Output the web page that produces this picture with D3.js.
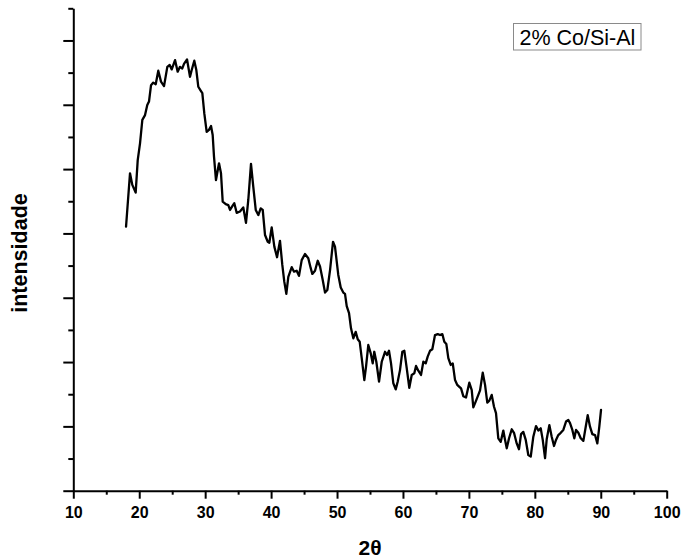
<!DOCTYPE html>
<html>
<head>
<meta charset="utf-8">
<script src="https://cdn.jsdelivr.net/npm/d3@7/dist/d3.min.js"></script>
<style>
  html, body { margin: 0; padding: 0; background: #fff; }
  svg { display: block; }
  text { font-family: "Liberation Sans", Arial, sans-serif; }
</style>
</head>
<body>
<svg id="chart" width="682" height="558"></svg>
<script>
// Diffraction pattern: 2θ (degrees) and intensity (arbitrary units)
const twoTheta = [
  18.00, 18.60, 18.95, 19.46, 19.77, 20.12, 20.47, 20.88, 21.22, 21.48,
  21.79, 22.13, 22.50, 22.89, 23.30, 23.76, 24.26, 24.62, 24.93, 25.43,
  25.83, 26.18, 26.53, 26.79, 27.25, 27.70, 27.96, 28.35, 28.66, 28.96,
  29.32, 29.57, 29.87, 30.23, 30.58, 30.89, 31.14, 31.34, 31.64, 32.10,
  32.40, 32.66, 33.12, 33.51, 33.77, 34.12, 34.42, 34.78, 35.28, 35.78,
  36.19, 36.54, 36.95, 37.30, 37.67, 38.06, 38.42, 38.73, 39.08, 39.49,
  39.73, 40.09, 40.49, 40.90, 41.35, 41.70, 42.00, 42.31, 42.61, 43.13,
  43.48, 43.88, 44.23, 44.64, 45.14, 45.64, 46.01, 46.25, 46.66, 47.07,
  47.42, 47.83, 48.18, 48.53, 48.94, 49.39, 49.69, 50.19, 50.56, 50.95,
  51.21, 51.47, 51.82, 52.12, 52.47, 52.83, 53.14, 53.44, 53.74, 54.14,
  54.40, 54.74, 55.11, 55.41, 55.65, 55.96, 56.37, 56.78, 57.28, 57.58,
  57.88, 58.19, 58.54, 58.90, 59.20, 59.55, 59.90, 60.21, 60.57, 60.96,
  61.33, 61.72, 61.98, 62.33, 62.74, 63.09, 63.45, 63.75, 64.10, 64.45,
  64.86, 65.27, 65.62, 65.97, 66.27, 66.58, 66.88, 67.24, 67.55, 67.90,
  68.24, 68.55, 68.81, 69.15, 69.56, 70.06, 70.43, 70.67, 71.03, 71.43,
  71.69, 72.10, 72.45, 72.79, 73.10, 73.46, 73.81, 74.11, 74.46, 74.83,
  75.22, 75.48, 75.74, 76.09, 76.50, 76.84, 77.25, 77.60, 77.91, 78.25,
  78.62, 79.01, 79.38, 79.77, 80.18, 80.53, 80.89, 81.20, 81.55, 81.80,
  82.20, 82.56, 82.91, 83.21, 83.56, 83.93, 84.32, 84.73, 85.08, 85.34,
  85.69, 85.99, 86.25, 86.60, 86.96, 87.36, 87.72, 88.02, 88.37, 88.72,
  89.13, 89.48, 89.78, 90.04
];
const intensity = [
   821,  987,  951,  927, 1028, 1080, 1153, 1168, 1199, 1210,
  1261, 1269, 1264, 1306, 1272, 1258, 1318, 1324, 1310, 1339,
  1303, 1318, 1313, 1327, 1341, 1287, 1308, 1337, 1308, 1256,
  1244, 1236, 1173, 1116, 1122, 1134, 1106, 1039,  966, 1018,
   987,  899,  891,  888,  873,  885,  894,  864,  868,  881,
   833,  904, 1016,  945,  873,  857,  878,  873,  795,  774,
   771,  819,  759,  726,  777,  702,  650,  612,  665,  695,
   681,  684,  668,  717,  736,  723,  692,  674,  684,  715,
   697,  655,  616,  624,  686,  774,  759,  671,  632,  616,
   612,  574,  552,  505,  474,  494,  471,  463,  413,  344,
   386,  453,  427,  396,  432,  401,  339,  401,  432,  422,
   435,  396,  334,  315,  339,  375,  432,  435,  381,  320,
   360,  365,  388,  373,  360,  401,  396,  417,  435,  440,
   484,  487,  484,  487,  463,  456,  412,  391,  396,  344,
   329,  323,  318,  294,  290,  336,  313,  259,  277,  298,
   312,  367,  329,  274,  280,  298,  261,  241,  163,  152,
   187,  158,  132,  163,  191,  180,  147,  129,  176,  183,
   158,  111,  106,  168,  201,  187,  194,  158,  101,  160,
   204,  168,  139,  158,  173,  180,  189,  215,  220,  210,
   189,  163,  189,  180,  163,  155,  199,  235,  199,  176,
   173,  147,  199,  251
];

// Axis ticks
const xMajorTicks = [10, 20, 30, 40, 50, 60, 70, 80, 90, 100];
const xMinorTicks = [15, 25, 35, 45, 55, 65, 75, 85, 95];
const yMajorTicks = [0, 200, 400, 600, 800, 1000, 1200, 1400];
const yMinorTicks = [100, 300, 500, 700, 900, 1100, 1300, 1500];

const seriesName = "2% Co/Si-Al";
const xTitle = "2θ";
const yTitle = "intensidade";

const W = 682, H = 558;
const margin = { top: 8.3, right: 15.3, bottom: 67.3, left: 73.3 };

const svg = d3.select("#chart");

const x = d3.scaleLinear().domain([10, 100]).range([margin.left, W - margin.right]);
const y = d3.scaleLinear().domain([0, 1500]).range([H - margin.bottom, margin.top]);

const axisStroke = 2;

// x axis: minor ticks first, then major ticks with labels and the axis line
const gxMinor = svg.append("g")
  .attr("transform", `translate(0,${y(0)})`)
  .call(d3.axisBottom(x).tickValues(xMinorTicks).tickSize(4).tickFormat(""));
gxMinor.select(".domain").remove();

const gx = svg.append("g")
  .attr("transform", `translate(0,${y(0)})`)
  .call(d3.axisBottom(x).tickValues(xMajorTicks).tickSize(8).tickSizeOuter(0)
        .tickPadding(8).tickFormat(d3.format("d")));
gx.selectAll("text")
  .attr("font-size", 16)
  .attr("font-weight", "bold")
  .attr("fill", "#000");

// y axis: no tick labels
const gyMinor = svg.append("g")
  .attr("transform", `translate(${x(10)},0)`)
  .call(d3.axisLeft(y).tickValues(yMinorTicks).tickSize(5).tickFormat(""));
gyMinor.select(".domain").remove();

const gy = svg.append("g")
  .attr("transform", `translate(${x(10)},0)`)
  .call(d3.axisLeft(y).tickValues(yMajorTicks).tickSize(10).tickSizeOuter(0).tickFormat(""));

svg.selectAll(".domain, .tick line")
  .attr("stroke", "#000")
  .attr("stroke-width", axisStroke);

// Pattern curve
const data = twoTheta.map((t, i) => ({ t, v: intensity[i] }));
const line = d3.line().x(d => x(d.t)).y(d => y(d.v));

svg.append("path")
  .datum(data)
  .attr("fill", "none")
  .attr("stroke", "#000")
  .attr("stroke-width", 2.3)
  .attr("stroke-linejoin", "round")
  .attr("stroke-linecap", "round")
  .attr("d", line);

// Axis titles
svg.append("text")
  .attr("x", 370)
  .attr("y", 555)
  .attr("text-anchor", "middle")
  .attr("font-size", 21)
  .attr("font-weight", "bold")
  .attr("fill", "#000")
  .text(xTitle);

svg.append("text")
  .attr("transform", "rotate(-90)")
  .attr("x", -253)
  .attr("y", 27)
  .attr("text-anchor", "middle")
  .attr("font-size", 21.5)
  .attr("font-weight", "bold")
  .attr("fill", "#000")
  .text(yTitle);

// Legend box
const legend = svg.append("g").attr("transform", "translate(513.5,23.5)");
legend.append("rect")
  .attr("width", 127.5)
  .attr("height", 26.5)
  .attr("fill", "#fff")
  .attr("stroke", "#8a8a8a")
  .attr("stroke-width", 1);
legend.append("text")
  .attr("x", 6)
  .attr("y", 21.5)
  .attr("font-size", 21.5)
  .attr("fill", "#000")
  .text(seriesName);
</script>
</body>
</html>
